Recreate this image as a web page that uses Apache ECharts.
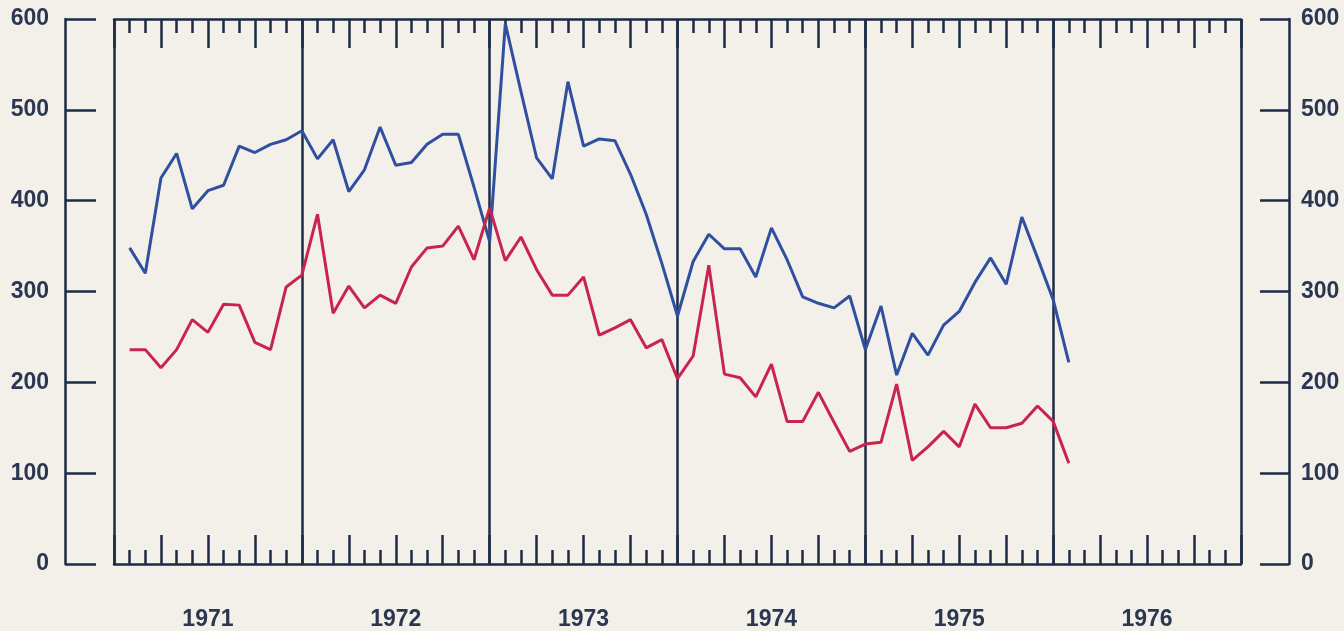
<!DOCTYPE html>
<html>
<head>
<meta charset="utf-8">
<script src="https://cdn.jsdelivr.net/npm/echarts@6/dist/echarts.min.js"></script>
<style>
  html, body { margin: 0; padding: 0; background: #f3efe9; }
  #chart { width: 1344px; height: 631px; }
</style>
</head>
<body>
<div id="chart"></div>
<script>
// Years shown on the time axis
var years = ['1971', '1972', '1973', '1974', '1975', '1976'];
// Monthly values (end of month), starting at end of Jan 1971
var firstMonth = 1;
var blueValues = [348, 320, 425, 452, 391, 411, 417, 460, 453, 462, 467, 477,
                  446, 467, 410, 434, 481, 439, 442, 462, 473, 473, 415, 355,
                  595, 520, 447, 424, 531, 460, 468, 466, 429, 385, 331, 273,
                  333, 363, 347, 347, 316, 370, 335, 294, 287, 282, 295, 236,
                  284, 208, 254, 230, 263, 278, 310, 337, 308, 382, 337, 291,
                  222];
var redValues = [236, 236, 216, 236, 269, 255, 286, 285, 244, 236, 305, 318,
                 385, 276, 306, 282, 296, 287, 327, 348, 350, 372, 335, 392,
                 334, 360, 324, 296, 296, 316, 252, 260, 269, 238, 247, 204,
                 229, 329, 209, 205, 184, 220, 157, 157, 189, 156, 124, 132,
                 134, 198, 114, 129, 146, 129, 176, 150, 150, 155, 174, 157,
                 111];
var yTicks = [0, 100, 200, 300, 400, 500, 600];

var axisColor = '#1e2b45';
var textColor = '#2b3650';
var monthsTotal = years.length * 12;

function toPairs(arr) {
  return arr.map(function (v, i) { return [firstMonth + i, v]; });
}

var chart = echarts.init(document.getElementById('chart'), null, { renderer: 'canvas' });

var monthAxisBase = {
  type: 'value',
  min: 0,
  max: monthsTotal,
  interval: 3,
  axisLine: { show: true, onZero: false, lineStyle: { color: axisColor, width: 2.5 } },
  axisTick: { show: true, inside: true, length: 29, lineStyle: { color: axisColor, width: 2.5 } },
  minorTick: { show: true, splitNumber: 3, length: 14, lineStyle: { color: axisColor, width: 2.5 } },
  axisLabel: { show: false },
  splitLine: { show: false },
  minorSplitLine: { show: false }
};

var yBase = {
  type: 'value',
  min: yTicks[0],
  max: yTicks[yTicks.length - 1],
  interval: yTicks[1] - yTicks[0],
  axisLine: { show: true, onZero: false, lineStyle: { color: axisColor, width: 2.5 } },
  axisTick: { show: true, inside: true, lineStyle: { color: axisColor, width: 2.5 } },
  splitLine: { show: false },
  axisLabel: {
    color: textColor,
    fontFamily: 'Liberation Sans',
    fontWeight: 'bold',
    fontSize: 23
  }
};

var option = {
  backgroundColor: '#f3efe9',
  animation: false,
  grid: { left: 114, right: 103, top: 19, bottom: 63 },
  xAxis: [
    Object.assign({}, monthAxisBase, { position: 'bottom' }),
    Object.assign({}, monthAxisBase, { position: 'top' }),
    {
      type: 'category',
      data: years,
      position: 'bottom',
      boundaryGap: true,
      axisLine: { show: false, onZero: false },
      axisTick: { show: false },
      splitLine: { show: true, lineStyle: { color: axisColor, width: 2.5 } },
      axisLabel: {
        margin: 44,
        color: textColor,
        fontFamily: 'Liberation Sans',
        fontWeight: 'bold',
        fontSize: 23
      }
    }
  ],
  yAxis: [
    Object.assign({}, yBase, {
      position: 'left',
      offset: 49,
      axisTick: Object.assign({}, yBase.axisTick, { length: 31 }),
      axisLabel: Object.assign({}, yBase.axisLabel, { margin: 16 })
    }),
    Object.assign({}, yBase, {
      position: 'right',
      offset: 48,
      axisTick: Object.assign({}, yBase.axisTick, { length: 29 }),
      axisLabel: Object.assign({}, yBase.axisLabel, { margin: 12 })
    })
  ],
  series: [
    {
      type: 'line',
      xAxisIndex: 0,
      yAxisIndex: 0,
      data: toPairs(blueValues),
      showSymbol: false,
      lineStyle: { color: '#2f50a0', width: 3 },
      z: 3
    },
    {
      type: 'line',
      xAxisIndex: 0,
      yAxisIndex: 0,
      data: toPairs(redValues),
      showSymbol: false,
      lineStyle: { color: '#c8244f', width: 3 },
      z: 4
    }
  ]
};

chart.setOption(option);
</script>
</body>
</html>
